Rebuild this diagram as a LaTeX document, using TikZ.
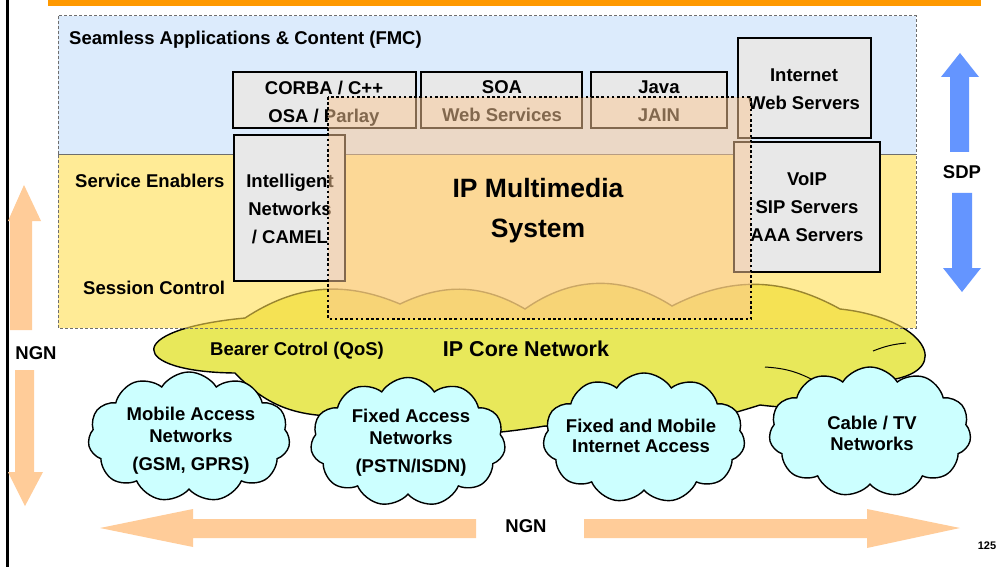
\documentclass[tikz,border=0pt]{standalone}
\usepackage{fontspec}
\setmainfont{Liberation Sans}
\usetikzlibrary{shapes.symbols}
\definecolor{barorange}{RGB}{255,153,0}
\definecolor{regblue}{RGB}{197,222,250}
\definecolor{regyellow}{RGB}{255,222,80}
\definecolor{regborder}{RGB}{110,110,110}
\definecolor{boxgray}{RGB}{232,232,232}
\definecolor{imsfill}{RGB}{250,200,150}
\definecolor{coreyellow}{RGB}{232,232,90}
\definecolor{accesscyan}{RGB}{204,255,255}
\definecolor{sdpblue}{RGB}{100,149,255}
\definecolor{ngnpeach}{RGB}{255,204,153}
\tikzset{
  txt/.style={inner sep=0, font=\fontsize{18.5}{22}\selectfont\bfseries},
  region/.style={draw=regborder, line width=1, dash pattern=on 3 off 2},
  gbox/.style={draw=black, line width=2.2, fill=boxgray, inner sep=0},
  btxt/.style={inner sep=0, anchor=north, align=center, font=\fontsize{18.5}{28}\selectfont\bfseries},
  ctxt/.style={inner sep=0, anchor=north, align=center, font=\fontsize{18.5}{22}\selectfont\bfseries},
  acloud/.style={cloud, cloud puffs=11, cloud puff arc=115, aspect=1.55, draw=black,
    line width=1.4, fill=accesscyan, inner sep=0, minimum width=202, minimum height=130},
  corecloud/.style={draw=black, line width=1.4, fill=coreyellow},
}
\begin{document}
\begin{tikzpicture}[x=1pt,y=-1pt]
\useasboundingbox (0,0) rectangle (1002,567);
\fill[white] (0,0) rectangle (1002,567);
% frame line and top bar
\draw[line width=3] (7.5,0) -- (7.5,567);
\fill[barorange] (48,0) rectangle (981,6.5);
% IP core cloud
\draw[corecloud] (235,373) .. controls (130,372) and (120,330) .. (245,318)
  to[bend left=28] (400,304) to[bend left=28] (525,309) to[bend left=34] (672,306)
  to[bend left=28] (840,309) .. controls (925,318) and (955,370) .. (890,380)
  to[bend left=18] (760,405) to[bend left=12] (545,426) to[bend left=12] (330,416)
  to[bend left=22] cycle;
\draw[line width=1] (765,367) to[bend left=12] (815,381);
\draw[line width=1] (873,351) to[bend left=8] (906,343);
% layers
\fill[regblue, fill opacity=0.6] (58,16) rectangle (916,155);
\fill[regyellow, fill opacity=0.6] (58,155) rectangle (916,328);
\draw[region] (58,16) rectangle (916,155);
\draw[region] (58,155) rectangle (916,328);
\node[txt, anchor=west] (fmc) at (69,40) {Seamless Applications \& Content (FMC)};
\node[txt, anchor=west] (enab) at (75,181) {Service Enablers};
\node[txt, anchor=west] (sess) at (83,288) {Session Control};
% boxes
\node[gbox, minimum width=183, minimum height=56] (corba) at (324.5,100) {};
\node[gbox, minimum width=161, minimum height=56] (soa) at (501.5,100) {};
\node[gbox, minimum width=136, minimum height=56] (java) at (659,100) {};
\node[gbox, minimum width=133, minimum height=100] (web) at (804.5,88) {};
\node[gbox, minimum width=111, minimum height=146] (in) at (289.5,208) {};
\node[gbox, minimum width=146, minimum height=130] (voip) at (807,207) {};
\node[btxt] (corbaT) at (324,80.4) {CORBA / C++\\OSA / Parlay};
\node[btxt] (soaT) at (502,80.4) {SOA\\Web Services};
\node[btxt] (javaT) at (659,80.4) {Java\\JAIN};
\node[btxt] (webT) at (804,68.4) {Internet\\Web Servers};
\node[btxt] (inT) at (290,173.4) {Intelligent\\Networks\\/ CAMEL};
\node[btxt] (voipT) at (807,172.4) {VoIP\\SIP Servers\\AAA Servers};
% IMS overlay
\fill[imsfill, fill opacity=0.52] (328,97) rectangle (751,319);
\draw[line width=2.6, dash pattern=on 2.6 off 2.6] (328,97) rectangle (751,319);
\node[inner sep=0, anchor=north, align=center, font=\fontsize{26.5}{40}\selectfont\bfseries] (ims) at (538,178.5) {IP Multimedia\\System};
% core texts
\node[txt] (bearer) at (297,351) {Bearer Cotrol (QoS)};
\node[inner sep=0, font=\fontsize{21.5}{25}\selectfont\bfseries] (corelbl) at (526,349) {IP Core Network};
% access clouds
\node[acloud] (mob) at (189,437) {};
\node[acloud, minimum width=195, minimum height=129] (fix) at (408,442) {};
\node[acloud] (fmi) at (644,438) {};
\node[acloud] (cab) at (870,432) {};
\node[ctxt] (mobT) at (191,406.4) {Mobile Access\\Networks\\[6pt](GSM, GPRS)};
\node[ctxt] (fixT) at (411,408.4) {Fixed Access\\Networks\\[6pt](PSTN/ISDN)};
\node[ctxt, font=\fontsize{18.5}{20.5}\selectfont\bfseries] (fmiT) at (641,418.4) {Fixed and Mobile\\Internet Access};
\node[ctxt, font=\fontsize{18.5}{21}\selectfont\bfseries] (cabT) at (872,415.4) {Cable / TV\\Networks};
% SDP arrows
\fill[sdpblue] (960,53) -- (979,77) -- (969,77) -- (969,152) -- (950,152) -- (950,77) -- (941,77) -- cycle;
\fill[sdpblue] (962,292) -- (981,268) -- (972,268) -- (972,193) -- (952,193) -- (952,268) -- (943,268) -- cycle;
\node[txt] (sdp) at (962,172) {SDP};
% NGN left arrows
\fill[ngnpeach] (24,185) -- (41,221) -- (32,221) -- (32,330) -- (10,330) -- (10,221) -- (8,221) -- cycle;
\fill[ngnpeach] (25,506) -- (43,472) -- (34,472) -- (34,370) -- (15,370) -- (15,472) -- (8,472) -- cycle;
\node[txt] (ngnl) at (36,353) {NGN};
% NGN bottom arrows
\fill[ngnpeach] (100,528) -- (193,509) -- (193,519) -- (476,519) -- (476,538) -- (193,538) -- (193,547) -- cycle;
\fill[ngnpeach] (960,528) -- (867,509) -- (867,519) -- (584,519) -- (584,538) -- (867,538) -- (867,548) -- cycle;
\node[txt] (ngnb) at (526,526) {NGN};
\node[inner sep=0, font=\fontsize{11}{13}\selectfont\bfseries] (page) at (987,546) {125};
\end{tikzpicture}
\end{document}
